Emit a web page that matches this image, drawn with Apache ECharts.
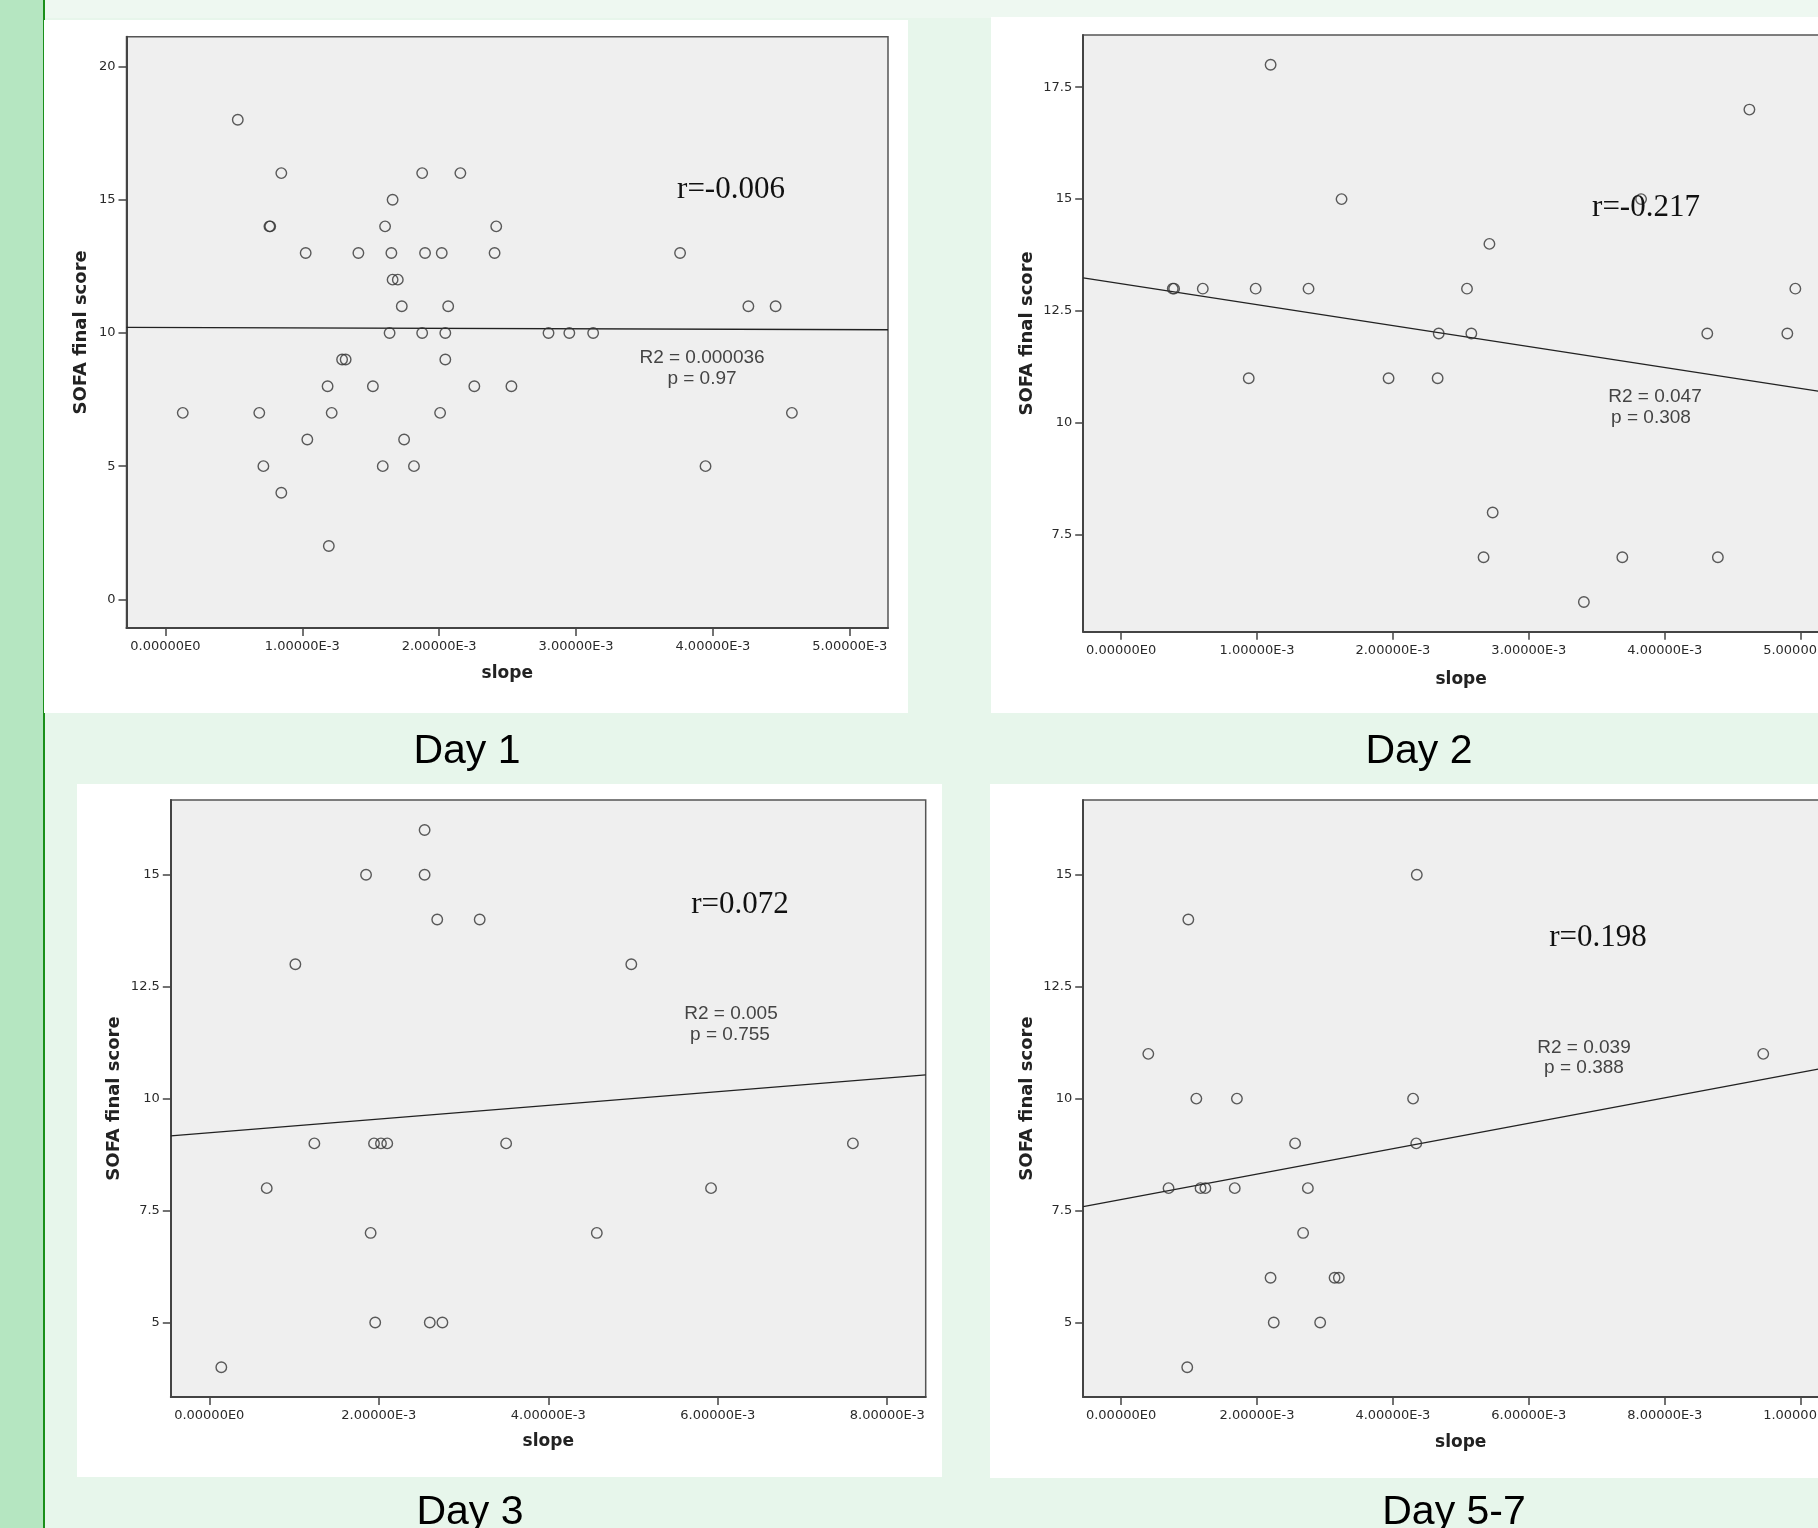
<!DOCTYPE html>
<html>
<head>
<meta charset="utf-8">
<script src="https://cdn.jsdelivr.net/npm/echarts@6/dist/echarts.min.js"></script>
<style>
html,body{margin:0;padding:0;width:1818px;height:1528px;overflow:hidden;background:#e7f6eb;}
.abs{position:absolute;}
#chart{position:absolute;left:0;top:0;width:1900px;height:1528px;}
</style>
</head>
<body>
<div class="abs" style="left:0;top:0;width:1818px;height:18px;background:#eef8f1;"></div>
<div class="abs" style="left:0;top:0;width:43px;height:1528px;background:#b5e6c1;"></div>
<div class="abs" style="left:43px;top:0;width:2px;height:1528px;background:#1a8f1a;"></div>
<div class="abs" style="left:44px;top:20px;width:864px;height:693px;background:#ffffff;"></div>
<div class="abs" style="left:991px;top:17px;width:827px;height:696px;background:#ffffff;"></div>
<div class="abs" style="left:77px;top:784px;width:865px;height:693px;background:#ffffff;"></div>
<div class="abs" style="left:990px;top:784px;width:828px;height:694px;background:#ffffff;"></div>
<div id="chart"></div>
<script>
// ---------------- data ----------------
const day1Slope = [0.529e-3,0.847e-3,1.876e-3,2.155e-3,1.660e-3,0.760e-3,0.766e-3,1.605e-3,2.417e-3,1.025e-3,1.410e-3,1.651e-3,1.897e-3,2.019e-3,2.405e-3,3.760e-3,1.660e-3,1.698e-3,1.727e-3,2.066e-3,4.259e-3,4.458e-3,1.638e-3,1.876e-3,2.045e-3,2.799e-3,2.951e-3,3.125e-3,1.291e-3,1.317e-3,2.045e-3,1.185e-3,1.516e-3,2.257e-3,2.528e-3,0.127e-3,0.686e-3,1.215e-3,2.007e-3,4.577e-3,1.037e-3,1.744e-3,0.716e-3,1.588e-3,1.816e-3,3.946e-3,0.847e-3,1.194e-3];
const day1Sofa  = [18,16,16,16,15,14,14,14,14,13,13,13,13,13,13,13,12,12,11,11,11,11,10,10,10,10,10,10,9,9,9,8,8,8,8,7,7,7,7,7,6,6,5,5,5,5,4,2];
const day1Fit   = [[-0.284e-3,10.21],[5.279e-3,10.12]];

const day2Slope = [1.100e-3,4.623e-3,1.622e-3,3.826e-3,2.710e-3,0.380e-3,0.390e-3,0.601e-3,0.990e-3,1.379e-3,2.545e-3,4.961e-3,2.337e-3,2.577e-3,4.313e-3,4.902e-3,0.939e-3,1.968e-3,2.329e-3,2.734e-3,2.667e-3,3.688e-3,4.391e-3,3.405e-3];
const day2Sofa  = [18,17,15,15,14,13,13,13,13,13,13,13,12,12,12,12,11,11,11,8,7,7,7,6];
const day2Fit   = [[-0.279e-3,13.24],[5.283e-3,10.64]];

const day3Slope = [2.541e-3,1.850e-3,2.541e-3,2.690e-3,3.191e-3,1.016e-3,4.980e-3,1.240e-3,1.944e-3,2.026e-3,2.100e-3,3.503e-3,7.595e-3,0.678e-3,5.921e-3,1.904e-3,4.573e-3,1.958e-3,2.602e-3,2.751e-3,0.142e-3];
const day3Sofa  = [16,15,15,14,14,13,13,9,9,9,9,9,9,8,8,7,7,5,5,5,4];
const day3Fit   = [[-0.454e-3,9.168],[8.454e-3,10.529]];

const day57Slope = [4.352e-3,0.990e-3,0.401e-3,9.450e-3,1.108e-3,1.705e-3,4.297e-3,2.561e-3,4.344e-3,0.699e-3,1.170e-3,1.241e-3,1.673e-3,2.749e-3,2.679e-3,2.200e-3,3.142e-3,3.205e-3,2.247e-3,2.930e-3,0.974e-3];
const day57Sofa  = [15,14,11,11,10,10,10,9,9,8,8,8,8,8,7,6,6,6,5,5,4];
const day57Fit   = [[-0.557e-3,7.589],[10.553e-3,10.74]];

const xTicks5  = [0,1e-3,2e-3,3e-3,4e-3,5e-3];
const xTicks8  = [0,2e-3,4e-3,6e-3,8e-3];
const xTicks10 = [0,2e-3,4e-3,6e-3,8e-3,10e-3];
const yTicksDay1 = [0,5,10,15,20];
const yTicksDay2 = [7.5,10,12.5,15,17.5];
const yTicksDay3 = [5,7.5,10,12.5,15];

const panelTitles = ['Day 1','Day 2','Day 3','Day 5-7'];
const rTexts  = ['r=-0.006','r=-0.217','r=0.072','r=0.198'];
const r2Texts = ['R2 = 0.000036','R2 = 0.047','R2 = 0.005','R2 = 0.039'];
const pTexts  = ['p = 0.97','p = 0.308','p = 0.755','p = 0.388'];
const xName = 'slope';
const yName = 'SOFA final score';

// ---------------- layout ----------------
const panels = [
  {slope:day1Slope, sofa:day1Sofa, fit:day1Fit, xt:xTicks5, yt:yTicksDay1,
   grid:{left:126.5, top:36.7, width:761.5, height:591.4}, xr:[-0.284e-3,5.279e-3], yr:[-1.08,21.12], xGap:37, yGap:36},
  {slope:day2Slope, sofa:day2Sofa, fit:day2Fit, xt:xTicks5, yt:yTicksDay2,
   grid:{left:1083.2, top:34.9, width:755.9, height:596.9}, xr:[-0.279e-3,5.283e-3], yr:[5.336,18.668], xGap:39, yGap:47},
  {slope:day3Slope, sofa:day3Sofa, fit:day3Fit, xt:xTicks8, yt:yTicksDay3,
   grid:{left:170.8, top:800, width:754.9, height:597}, xr:[-0.454e-3,8.454e-3], yr:[3.335,16.67], xGap:36, yGap:47},
  {slope:day57Slope, sofa:day57Sofa, fit:day57Fit, xt:xTicks10, yt:yTicksDay3,
   grid:{left:1083.2, top:800, width:755, height:597}, xr:[-0.557e-3,10.553e-3], yr:[3.335,16.67], xGap:37, yGap:47}
];

const fmtX = v => {
  if (Math.abs(v) < 1e-12) return '0.00000E0';
  return v.toExponential(5).replace('e+','E').replace('e','E');
};

const grids = [], xAxes = [], yAxes = [], series = [];
panels.forEach((p, i) => {
  grids.push(Object.assign({show:true, backgroundColor:'#efefef', borderColor:'#555', borderWidth:1.5,
    containLabel:false, outerBoundsMode:'none'}, p.grid));
  xAxes.push({
    gridIndex:i, type:'value', min:p.xr[0], max:p.xr[1],
    axisLine:{show:true, onZero:false, lineStyle:{color:'#444', width:2}},
    axisTick:{show:true, length:8, customValues:p.xt, lineStyle:{color:'#444', width:1.5}},
    axisLabel:{show:true, customValues:p.xt, formatter:fmtX, color:'#2a2a2a', fontFamily:'DejaVu Sans', fontSize:13, margin:12},
    splitLine:{show:false},
    name:xName, nameLocation:'middle', nameGap:p.xGap,
    nameTextStyle:{fontFamily:'DejaVu Sans', fontWeight:'bold', fontSize:17, color:'#222'}
  });
  yAxes.push({
    gridIndex:i, type:'value', min:p.yr[0], max:p.yr[1],
    axisLine:{show:true, onZero:false, lineStyle:{color:'#444', width:2}},
    axisTick:{show:true, length:8, customValues:p.yt, lineStyle:{color:'#444', width:1.5}},
    axisLabel:{show:true, customValues:p.yt, formatter:v => String(v), color:'#2a2a2a', fontFamily:'DejaVu Sans', fontSize:13, margin:11},
    splitLine:{show:false},
    name:yName, nameLocation:'middle', nameGap:p.yGap,
    nameTextStyle:{fontFamily:'DejaVu Sans', fontWeight:'bold', fontSize:18, color:'#222'}
  });
  series.push({
    type:'line', xAxisIndex:i, yAxisIndex:i, data:p.fit, symbol:'none', silent:true,
    lineStyle:{color:'#222', width:1.3}, z:3
  });
  series.push({
    type:'scatter', xAxisIndex:i, yAxisIndex:i, silent:true,
    data:p.slope.map((x, k) => [x, p.sofa[k]]),
    symbol:'circle', symbolSize:10.5,
    itemStyle:{color:'rgba(0,0,0,0)', borderColor:'#333', borderWidth:1.4}, z:4
  });
});

// annotation text positions (pixels, layout only)
const rPos  = [[731,190],[1646,208],[740,905],[1598,938]];
const r2Pos = [[702,358],[1655,397],[731,1014],[1584,1048]];
const pPos  = [[702,379],[1651,418],[730,1035],[1584,1068]];
const titlePos = [[467,752],[1419,752],[470,1513],[1454,1513]];

const graphics = [];
for (let i = 0; i < 4; i++) {
  graphics.push({type:'text', z:100, style:{text:rTexts[i], x:rPos[i][0], y:rPos[i][1],
    font:'31px "Liberation Serif"', fill:'#111', textAlign:'center', textVerticalAlign:'middle'}});
  graphics.push({type:'text', z:100, style:{text:r2Texts[i], x:r2Pos[i][0], y:r2Pos[i][1],
    font:'19px "Liberation Sans"', fill:'#444', textAlign:'center', textVerticalAlign:'middle'}});
  graphics.push({type:'text', z:100, style:{text:pTexts[i], x:pPos[i][0], y:pPos[i][1],
    font:'19px "Liberation Sans"', fill:'#444', textAlign:'center', textVerticalAlign:'middle'}});
  graphics.push({type:'text', z:100, style:{text:panelTitles[i], x:titlePos[i][0], y:titlePos[i][1],
    font:'41px "Liberation Sans"', fill:'#000', textAlign:'center', textVerticalAlign:'middle'}});
}

const chart = echarts.init(document.getElementById('chart'), null, {renderer:'canvas'});
chart.setOption({
  backgroundColor:'transparent',
  animation:false,
  grid:grids, xAxis:xAxes, yAxis:yAxes, series:series,
  graphic:{elements:graphics}
});
</script>
</body>
</html>
